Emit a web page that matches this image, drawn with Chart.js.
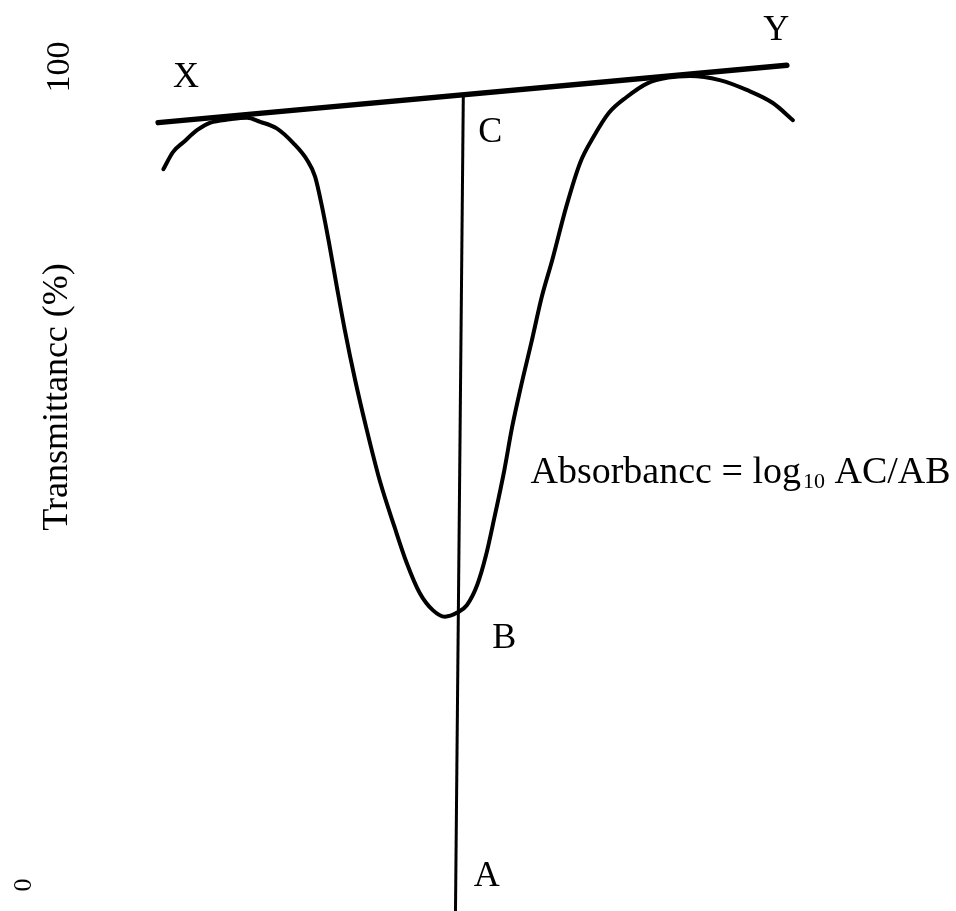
<!DOCTYPE html>
<html>
<head>
<meta charset="utf-8">
<title>Absorbance from transmittance band</title>
<script src="https://cdn.jsdelivr.net/npm/chart.js@4.4.1/dist/chart.umd.min.js"></script>
<style>
  html, body { margin: 0; padding: 0; background: #fff; overflow: hidden; }
  #wrap { width: 956px; height: 911px; position: relative; }
</style>
</head>
<body>
<div id="wrap"><canvas id="chart"></canvas></div>
<script>
// x has no scale in the figure: arbitrary units 0..100, y = transmittance (%)
const bandX = [9.1, 10.2, 11.4, 13.0, 14.5, 16.7, 18.7, 20.2, 22.1, 24.0, 25.6, 26.5, 27.3, 28.1,
  29.0, 29.9, 31.1, 32.3, 33.9, 35.6, 37.0, 38.5, 40.0, 41.4, 42.8, 43.9, 45.1, 46.1, 47.0,
  48.2, 49.1, 50.1, 51.3, 52.5, 53.7, 55.3, 56.9, 58.4, 60.2, 62.2, 64.6, 67.0, 69.5, 72.9,
  76.0, 79.0, 81.3];
const bandT = [87.5, 89.6, 90.8, 92.3, 93.2, 93.6, 93.8, 93.3, 92.5, 90.7, 88.6, 86.6, 82.9, 78.5,
  73.1, 67.9, 61.7, 56.2, 49.5, 43.8, 39.4, 35.7, 33.6, 32.8, 33.3, 34.2, 36.7, 40.3, 44.6,
  50.7, 56.0, 60.9, 66.3, 71.9, 76.4, 82.9, 88.3, 91.4, 94.4, 96.3, 98.0, 98.7, 98.9, 98.4,
  97.2, 95.6, 93.5];

// tangent baseline X-Y and the drop line C-B-A
const baselineX = [8.5, 80.6];
const baselineT = [93.2, 100.2];
const dropX = [43.5, 42.6];
const dropT = [96.6, -3.2];

const tickValues = [0, 100];

// letters on the figure, placed in data units
const pointNames = ["X", "Y", "C", "B", "A"];
const pointNameX = [11.7, 79.4, 46.6, 48.2, 46.2];
const pointNameT = [98.7, 104.4, 92.0, 30.1, 1.0];

const formulaParts = ["Absorbancc = log", "10", " AC/AB"];
const formulaX = 51.2;
const formulaT = 49.2;

const toPoints = (xs, ys) => xs.map((x, i) => ({ x, y: ys[i] }));

const SERIF = '"Liberation Serif", "DejaVu Serif", serif';

/* ============================================================
 * letters + formula drawn through the scales
 * ============================================================ */

const annotations = {
  id: "annotations",
  afterDatasetsDraw(chart) {
    const { ctx } = chart;
    const xs = chart.scales.x;
    const ys = chart.scales.y;

    ctx.save();
    ctx.fillStyle = "#000";
    ctx.textAlign = "center";
    ctx.textBaseline = "middle";
    ctx.font = "36px " + SERIF;
    pointNames.forEach((name, i) => {
      ctx.fillText(name, xs.getPixelForValue(pointNameX[i]), ys.getPixelForValue(pointNameT[i]));
    });

    // formula with subscript 10
    let px = xs.getPixelForValue(formulaX);
    const py = ys.getPixelForValue(formulaT);
    ctx.textAlign = "left";
    ctx.textBaseline = "alphabetic";

    ctx.font = "38px " + SERIF;
    ctx.fillText(formulaParts[0], px, py);
    px += ctx.measureText(formulaParts[0]).width + 2;

    ctx.font = "22px " + SERIF;
    ctx.fillText(formulaParts[1], px, py + 5);
    px += ctx.measureText(formulaParts[1]).width;

    ctx.font = "38px " + SERIF;
    ctx.fillText(formulaParts[2], px, py);
    ctx.restore();
  },
};

const ctx = document.getElementById("chart").getContext("2d");

new Chart(ctx, {
  type: "line",
  data: {
    datasets: [
      {
        data: toPoints(bandX, bandT),
        borderColor: "#000",
        borderWidth: 4,
        pointRadius: 0,
        cubicInterpolationMode: "monotone",
        borderCapStyle: "round",
        borderJoinStyle: "round",
        clip: false,
      },
      {
        data: toPoints(baselineX, baselineT),
        borderColor: "#000",
        borderWidth: 5.5,
        pointRadius: 0,
        borderCapStyle: "round",
        clip: false,
      },
      {
        data: toPoints(dropX, dropT),
        borderColor: "#000",
        borderWidth: 3,
        pointRadius: 0,
        clip: false,
      },
    ],
  },
  options: {
    responsive: true,
    maintainAspectRatio: false,
    animation: false,
    layout: { padding: 0 },
    plugins: { legend: { display: false }, tooltip: { enabled: false } },
    scales: {
      x: {
        type: "linear",
        min: 0,
        max: 100,
        display: false,
      },
      // inner axis: "100" and the title
      y: {
        position: "left",
        weight: 0,
        min: -3.18,
        max: 108.19,
        grid: { display: false, drawTicks: false },
        border: { display: false },
        afterBuildTicks: (s) => { s.ticks = [{ value: tickValues[1] }]; },
        afterFit: (s) => { s.width = 48; s.paddingTop = 0; s.paddingBottom = 0; },
        ticks: {
          minRotation: 90,
          maxRotation: 90,
          crossAlign: "center",
          padding: -2,
          color: "#000",
          font: { family: SERIF, size: 34 },
        },
        title: {
          display: true,
          // leading spaces lift the rotated title to where the scan has it
          text: "             Transmittancc (%)",
          color: "#000",
          padding: { top: 0, bottom: 0 },
          font: { family: SERIF, size: 36, lineHeight: 1.2 },
        },
      },
      // outer axis: only the "0"
      y0: {
        position: "left",
        weight: 1,
        min: -3.18,
        max: 108.19,
        grid: { display: false, drawTicks: false },
        border: { display: false },
        afterBuildTicks: (s) => { s.ticks = [{ value: tickValues[0] }]; },
        afterFit: (s) => { s.width = 36; s.paddingTop = 0; s.paddingBottom = 0; },
        ticks: {
          minRotation: 90,
          maxRotation: 90,
          crossAlign: "center",
          padding: 5,
          color: "#000",
          font: { family: SERIF, size: 26 },
        },
      },
    },
  },
  plugins: [annotations],
});
</script>
</body>
</html>
